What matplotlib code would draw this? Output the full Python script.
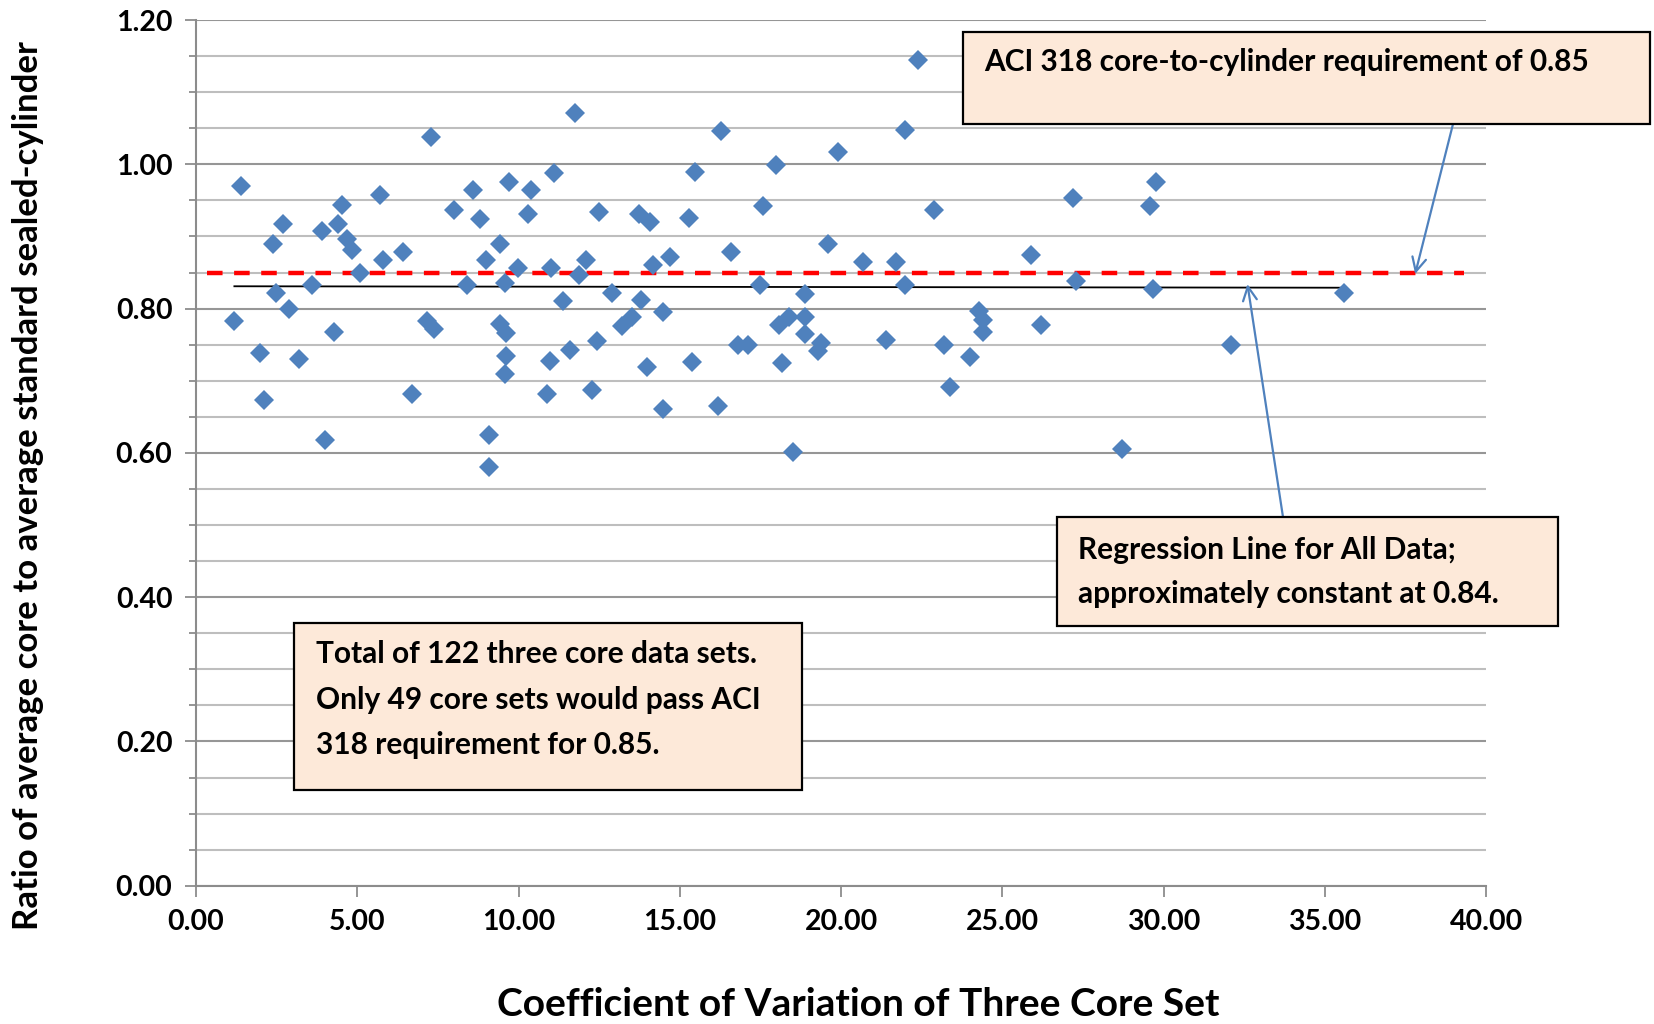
import matplotlib
matplotlib.use("Agg")
import matplotlib.pyplot as plt
from matplotlib.patches import Rectangle
from matplotlib.ticker import MultipleLocator, FormatStrFormatter

plt.rcParams['font.family'] = ['Lato', 'DejaVu Sans']
plt.rcParams['font.weight'] = 'bold'

# coefficient of variation of three-core set (%)
cov = [1.39, 7.29, 2.69, 2.39, 4.52, 4.39, 3.90, 5.70, 4.69, 4.83, 5.09, 5.79, 6.43, 3.59,
       2.48, 2.89, 1.19, 4.28, 1.98, 3.19, 2.10, 3.99, 6.69, 7.17, 7.39, 7.99, 8.59, 8.80,
       9.42, 8.99, 8.39, 9.58, 9.99, 9.70, 9.42, 9.60, 9.60, 9.58, 9.09, 9.09,
       10.39, 10.29, 11.09, 11.75, 11.00, 11.89, 12.09, 12.49, 11.39, 12.89, 13.72, 14.08,
       14.18, 14.70, 13.79, 13.51, 13.20, 14.49, 12.42, 11.59, 10.99, 10.89, 12.29, 13.98,
       14.49, 15.38, 16.19, 15.48, 15.29, 16.29, 16.59, 16.79, 17.11, 17.49, 17.59, 17.98,
       19.90, 19.59, 18.88, 18.40, 18.09, 18.88, 18.88, 19.38, 19.28, 18.18, 18.50,
       22.40, 21.98, 22.89, 20.68, 21.70, 21.98, 21.40, 23.19, 23.99, 23.38, 24.29, 24.39,
       24.39, 25.88, 26.19, 27.19, 27.29, 29.76, 29.59, 29.68, 28.70,
       32.09, 35.59]
# ratio of average core to average sealed cylinder
ratio = [0.970, 1.038, 0.918, 0.890, 0.943, 0.918, 0.907, 0.958, 0.896, 0.881, 0.849, 0.867,
         0.878, 0.833, 0.822, 0.800, 0.783, 0.767, 0.738, 0.730, 0.674, 0.618, 0.682, 0.783,
         0.772, 0.937, 0.965, 0.924, 0.890, 0.867, 0.833, 0.836, 0.856, 0.976, 0.779, 0.766,
         0.734, 0.709, 0.625, 0.581,
         0.964, 0.931, 0.988, 1.071, 0.856, 0.847, 0.868, 0.934, 0.810, 0.822, 0.931, 0.920,
         0.860, 0.871, 0.812, 0.788, 0.776, 0.795, 0.755, 0.742, 0.727, 0.682, 0.687, 0.719,
         0.661, 0.726, 0.665, 0.989, 0.926, 1.046, 0.878, 0.750, 0.750, 0.833, 0.942, 0.999,
         1.017, 0.890, 0.820, 0.789, 0.777, 0.788, 0.765, 0.752, 0.741, 0.724, 0.601,
         1.145, 1.047, 0.937, 0.864, 0.864, 0.833, 0.756, 0.750, 0.733, 0.691, 0.797, 0.784,
         0.767, 0.874, 0.778, 0.953, 0.838, 0.976, 0.942, 0.827, 0.605,
         0.750, 0.822]

aci_x = [0.35, 39.3]
aci_y = [0.85, 0.85]
reg_x = [1.19, 35.59]
reg_y = [0.831, 0.829]

fig = plt.figure(figsize=(16.54, 10.24), dpi=100)
ax = fig.add_axes([0.1185, 0.135, 0.780, 0.8454])

ax.yaxis.set_major_locator(MultipleLocator(0.2))
ax.yaxis.set_minor_locator(MultipleLocator(0.05))
ax.xaxis.set_major_locator(MultipleLocator(5))
ax.grid(axis='y', which='minor', color='#BEBEBE', lw=1.5, zorder=0)
ax.grid(axis='y', which='major', color='#969696', lw=1.5, zorder=0)
ax.set_axisbelow(True)

ax.plot(aci_x, aci_y, color='#FF0000', lw=3.2, dashes=(3.5, 2.6), zorder=2)
ax.plot(reg_x, reg_y, color='black', lw=1.3, zorder=2)
ax.plot(cov, ratio, 'D', color='#4F81BD', ms=10.5, mew=0, zorder=3)

ax.set_xlim(0, 40)
ax.set_ylim(0, 1.2)
ax.xaxis.set_major_formatter(FormatStrFormatter('%.2f'))
ax.yaxis.set_major_formatter(FormatStrFormatter('%.2f'))
for s in ['top', 'right']:
    ax.spines[s].set_visible(False)
for s in ['left', 'bottom']:
    ax.spines[s].set_color('#8C8C8C')
    ax.spines[s].set_linewidth(1.5)
ax.tick_params(axis='both', which='major', color='#8C8C8C', width=1.3, length=8,
               labelsize=20.5, pad=9)
ax.tick_params(axis='y', which='minor', color='#8C8C8C', width=1.3, length=5)
for lab in ax.get_xticklabels() + ax.get_yticklabels():
    lab.set_fontweight('bold')

fig.text(0.519, 0.0195, 'Coefficient of Variation of Three Core Set', fontsize=28,
         fontweight='bold', ha='center', va='center')
fig.text(0.017, 0.526, 'Ratio of average core to average standard sealed-cylinder', fontsize=25,
         fontweight='bold', ha='center', va='center', rotation=90)

box_fc = '#FDE9D9'
fs = 21.5
# box 1
fig.patches.append(Rectangle((0.582, 0.879), 0.4156, 0.090, transform=fig.transFigure,
                             fc=box_fc, ec='black', lw=1.6, zorder=5))
fig.text(0.595, 0.939, 'ACI 318 core-to-cylinder requirement of 0.85', fontsize=fs,
         fontweight='bold', va='center', zorder=6)
# box 2
fig.patches.append(Rectangle((0.639, 0.389), 0.303, 0.106, transform=fig.transFigure,
                             fc=box_fc, ec='black', lw=1.6, zorder=5))
for txt, yy in zip(['Regression Line for All Data;', 'approximately constant at 0.84.'],
                   [0.463, 0.420]):
    fig.text(0.652, yy, txt, fontsize=fs, fontweight='bold', va='center', zorder=6)
# box 3
fig.patches.append(Rectangle((0.178, 0.229), 0.307, 0.163, transform=fig.transFigure,
                             fc=box_fc, ec='black', lw=1.6, zorder=5))
for txt, yy in zip(['Total of 122 three core data sets.', 'Only 49 core sets would pass ACI',
                    '318 requirement for 0.85.'], [0.361, 0.316, 0.272]):
    fig.text(0.191, yy, txt, fontsize=fs, fontweight='bold', va='center', zorder=6)

arrow = dict(arrowstyle='->,head_length=1.0,head_width=0.5', color='#4F81BD', lw=1.6,
             shrinkA=0, shrinkB=0)
ax.annotate('', xy=(37.8, 0.848), xycoords='data', xytext=(0.8785, 0.879),
            textcoords='figure fraction', arrowprops=arrow, zorder=4)
ax.annotate('', xy=(32.6, 0.834), xycoords='data', xytext=(0.7757, 0.495),
            textcoords='figure fraction', arrowprops=arrow, zorder=4)

fig.savefig('out.png', dpi=100)
